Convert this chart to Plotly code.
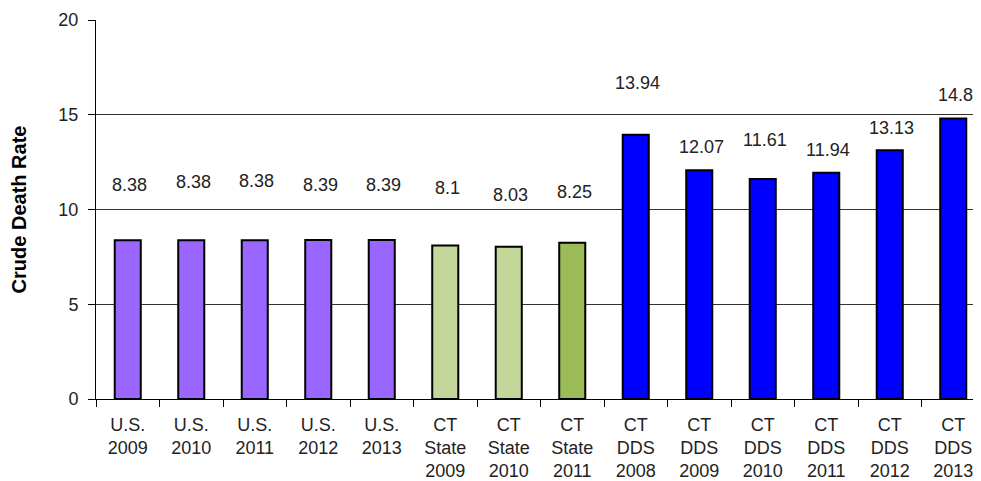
import plotly.graph_objects as go

# Data
categories = ["U.S.<br>2009", "U.S.<br>2010", "U.S.<br>2011", "U.S.<br>2012", "U.S.<br>2013",
              "CT<br>State<br>2009", "CT<br>State<br>2010", "CT<br>State<br>2011",
              "CT<br>DDS<br>2008", "CT<br>DDS<br>2009", "CT<br>DDS<br>2010",
              "CT<br>DDS<br>2011", "CT<br>DDS<br>2012", "CT<br>DDS<br>2013"]
death_rates = [8.38, 8.38, 8.38, 8.39, 8.39, 8.1, 8.03, 8.25,
               13.94, 12.07, 11.61, 11.94, 13.13, 14.8]
bar_colors = ["#9966FF"] * 5 + ["#C4D79B", "#C4D79B", "#9BBB59"] + ["#0000FF"] * 6

# label heights as placed in the original (not directly on top of bars)
label_y = [11.3, 11.45, 11.5, 11.3, 11.3, 11.15, 10.75, 10.9,
           16.7, 13.3, 13.65, 13.15, 14.3, 16.05]

fig = go.Figure()
fig.add_trace(go.Bar(
    x=categories, y=death_rates,
    marker=dict(color=bar_colors, line=dict(color="black", width=2)),
    width=0.41,
    showlegend=False,
))

for cat, val, ly in zip(categories, death_rates, label_y):
    fig.add_annotation(x=cat, y=ly, text=f"{val:g}", showarrow=False, xshift=2,
                       font=dict(size=18, color="#222"))

# page body has an 8px margin, so margins are shifted to compensate
fig.update_layout(
    width=981, height=473,
    margin=dict(l=88, r=4, t=12, b=82),
    plot_bgcolor="white", paper_bgcolor="white",
    font=dict(family="Liberation Sans, Arial, sans-serif", color="black"),
)
fig.update_xaxes(
    automargin=False,
    showline=True, linecolor="black", linewidth=1,
    ticks="outside", tickson="boundaries", ticklen=7, tickcolor="black",
    tickfont=dict(size=18, color="#222"), ticklabelstandoff=9,
    range=[-0.5, 13.5],
)
fig.update_yaxes(
    automargin=False,
    range=[0, 20], dtick=5,
    showline=True, linecolor="black", linewidth=1,
    showgrid=True, gridcolor="#333", gridwidth=1,
    ticks="outside", ticklen=7, tickcolor="black",
    tickfont=dict(size=18, color="#222"), ticklabelstandoff=6,
    title=dict(text="<b>Crude Death Rate</b>", font=dict(size=20), standoff=26),
    zeroline=False,
)

fig.write_html("out.html")
